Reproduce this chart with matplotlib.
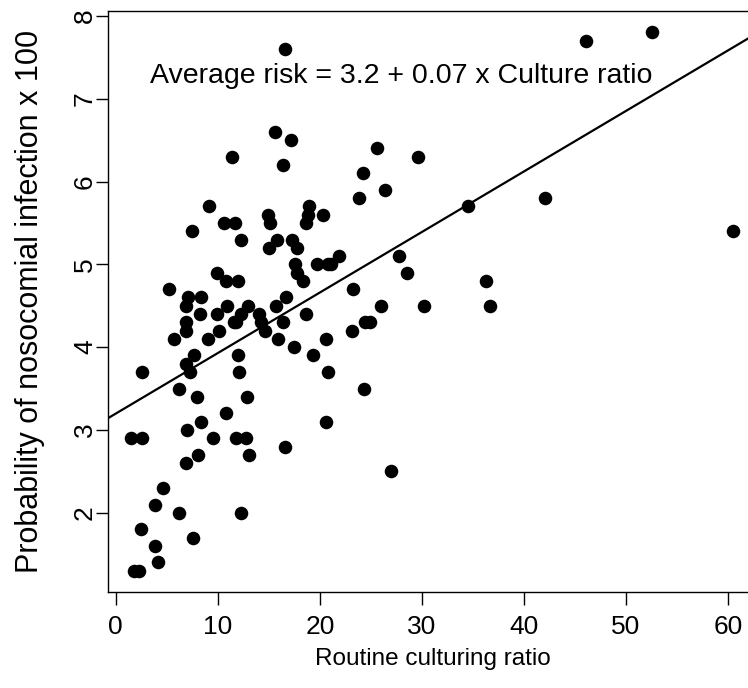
import matplotlib
matplotlib.use("Agg")
import matplotlib.pyplot as plt

# Routine culturing ratio (x) and infection risk (y)
culture = [
    16.6, 15.6, 17.2, 11.4, 16.4, 9.1, 7.5, 10.6, 11.7, 12.3,
    14.9, 15.1, 15.8, 15.0, 17.3, 17.8, 18.9, 18.8, 18.6, 20.3,
    19.7, 17.6, 17.8, 18.3, 9.9, 10.8, 12.0, 5.2, 7.1, 8.4,
    6.9, 8.3, 9.9, 10.9, 13.0, 12.3, 11.8, 14.0, 14.2, 14.6,
    15.7, 16.7, 16.4, 15.9, 17.5, 18.6, 19.3, 6.9, 6.9, 5.7,
    9.0, 10.1, 7.7, 6.9, 7.3, 12.0, 12.1, 2.6, 6.2, 8.0,
    12.9, 10.8, 8.4, 7.0, 1.5, 2.6, 9.5, 11.8, 12.8, 16.6,
    8.1, 13.1, 6.9, 4.6, 3.8, 6.2, 12.3, 2.5, 3.8, 7.6,
    4.1, 1.8, 2.3, 25.6, 29.6, 24.2, 26.4, 23.8, 34.5, 21.9,
    21.1, 20.8, 27.8, 28.5, 23.2, 36.3, 26.0, 30.2, 36.7, 24.4,
    24.9, 23.1, 20.6, 20.8, 24.3, 20.6, 27.0, 46.1, 52.5, 42.1,
    60.5, 11.6,
]
risk = [
    7.6, 6.6, 6.5, 6.3, 6.2, 5.7, 5.4, 5.5, 5.5, 5.3,
    5.6, 5.5, 5.3, 5.2, 5.3, 5.2, 5.7, 5.6, 5.5, 5.6,
    5.0, 5.0, 4.9, 4.8, 4.9, 4.8, 4.8, 4.7, 4.6, 4.6,
    4.5, 4.4, 4.4, 4.5, 4.5, 4.4, 4.3, 4.4, 4.3, 4.2,
    4.5, 4.6, 4.3, 4.1, 4.0, 4.4, 3.9, 4.3, 4.2, 4.1,
    4.1, 4.2, 3.9, 3.8, 3.7, 3.9, 3.7, 3.7, 3.5, 3.4,
    3.4, 3.2, 3.1, 3.0, 2.9, 2.9, 2.9, 2.9, 2.9, 2.8,
    2.7, 2.7, 2.6, 2.3, 2.1, 2.0, 2.0, 1.8, 1.6, 1.7,
    1.4, 1.3, 1.3, 6.4, 6.3, 6.1, 5.9, 5.8, 5.7, 5.1,
    5.0, 5.0, 5.1, 4.9, 4.7, 4.8, 4.5, 4.5, 4.5, 4.3,
    4.3, 4.2, 4.1, 3.7, 3.5, 3.1, 2.5, 7.7, 7.8, 5.8,
    5.4, 4.3,
]

# fitted line as printed on the chart
intercept = 3.198
slope = 0.0731
label = "Average risk = 3.2 + 0.07 x Culture ratio"

x_ticks = [0, 10, 20, 30, 40, 50, 60]
y_ticks = [2, 3, 4, 5, 6, 7, 8]

plt.rcParams['font.family'] = ['Liberation Sans', 'DejaVu Sans']

fig = plt.figure(figsize=(7.48, 6.88), dpi=100)
ax = fig.add_axes([0.1444, 0.1391, 0.868, 0.845])

ax.scatter(culture, risk, s=95, color='black', linewidths=0, zorder=3)
ax.axline((0, intercept), slope=slope, color='black', linewidth=1.6)
ax.text(28.0, 7.28, label, ha='center', va='center', fontsize=20.5)

ax.set_xlim(-0.76, 62.86)
ax.set_ylim(1.04, 8.06)
ax.set_xticks(x_ticks)
ax.set_yticks(y_ticks)
ax.tick_params(direction='out', length=9, width=1, labelsize=19)
ax.tick_params(axis='x', pad=7)
ax.tick_params(axis='y', pad=-1)
for lab in ax.get_yticklabels():
    lab.set_rotation(90)
    lab.set_va('center')

ax.set_xlabel("Routine culturing ratio", fontsize=17.5, labelpad=7)
ax.set_ylabel("Probability of nosocomial infection x 100", fontsize=22, labelpad=20)

for sp in ax.spines.values():
    sp.set_linewidth(1)

fig.savefig("out.png", dpi=100)
